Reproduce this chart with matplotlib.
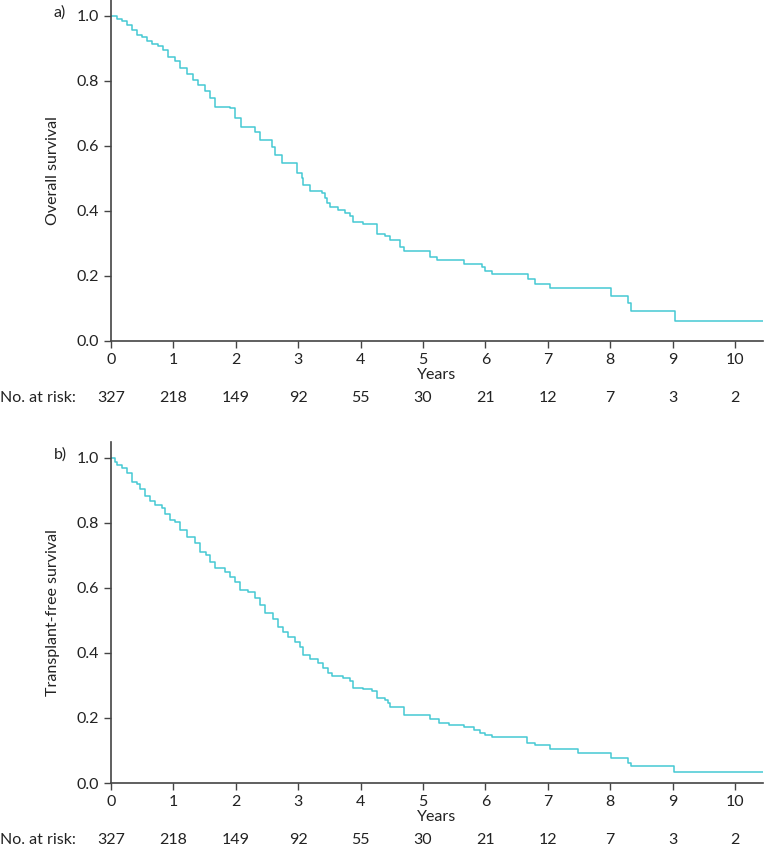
import matplotlib
matplotlib.use("Agg")
import matplotlib.pyplot as plt
from matplotlib.transforms import blended_transform_factory

plt.rcParams['font.family'] = ['Lato', 'DejaVu Sans']

# Kaplan-Meier step points (time in years, survival)
t_os = [0, 0.09, 0.17, 0.25, 0.33, 0.41, 0.49, 0.57, 0.65, 0.76, 0.84, 0.92,
        1.03, 1.11, 1.21, 1.32, 1.40, 1.51, 1.59, 1.67, 1.91, 1.99, 2.09, 2.31,
        2.39, 2.58, 2.63, 2.74, 2.98, 3.06, 3.08, 3.19, 3.38, 3.43, 3.46, 3.51,
        3.64, 3.75, 3.83, 3.88, 4.04, 4.26, 4.39, 4.47, 4.63, 4.69, 5.11, 5.22,
        5.65, 5.94, 6.00, 6.10, 6.69, 6.79, 7.04, 8.02, 8.29, 8.33, 9.04, 10.45]
s_os = [1.0, 0.99, 0.983, 0.972, 0.957, 0.942, 0.934, 0.924, 0.913, 0.906, 0.895, 0.873,
        0.862, 0.839, 0.822, 0.803, 0.788, 0.770, 0.747, 0.720, 0.716, 0.685, 0.659, 0.644,
        0.618, 0.598, 0.572, 0.547, 0.516, 0.500, 0.480, 0.461, 0.454, 0.439, 0.423, 0.411,
        0.403, 0.395, 0.383, 0.367, 0.360, 0.329, 0.323, 0.311, 0.290, 0.277, 0.257, 0.249,
        0.236, 0.227, 0.215, 0.205, 0.190, 0.174, 0.162, 0.139, 0.116, 0.092, 0.0625, 0.0625]

t_tfs = [0, 0.07, 0.09, 0.17, 0.25, 0.33, 0.41, 0.46, 0.54, 0.62, 0.71, 0.81, 0.87,
         0.95, 1.03, 1.11, 1.21, 1.35, 1.43, 1.53, 1.59, 1.67, 1.83, 1.91, 1.99, 2.07,
         2.20, 2.31, 2.39, 2.47, 2.60, 2.68, 2.76, 2.84, 2.95, 3.03, 3.08, 3.19, 3.32,
         3.40, 3.48, 3.54, 3.72, 3.83, 3.88, 4.04, 4.18, 4.26, 4.39, 4.44, 4.47, 4.63,
         4.69, 5.11, 5.25, 5.41, 5.65, 5.81, 5.91, 5.99, 6.10, 6.66, 6.79, 7.04, 7.49,
         8.02, 8.29, 8.33, 9.03, 10.45]
s_tfs = [1.0, 0.988, 0.978, 0.968, 0.953, 0.927, 0.920, 0.904, 0.883, 0.868, 0.855, 0.847, 0.828,
         0.809, 0.804, 0.778, 0.758, 0.738, 0.712, 0.702, 0.681, 0.661, 0.650, 0.635, 0.619, 0.594,
         0.586, 0.568, 0.548, 0.522, 0.504, 0.481, 0.466, 0.450, 0.435, 0.419, 0.394, 0.381, 0.368,
         0.353, 0.338, 0.329, 0.322, 0.314, 0.291, 0.288, 0.284, 0.261, 0.255, 0.245, 0.235, 0.233,
         0.209, 0.197, 0.186, 0.178, 0.172, 0.163, 0.155, 0.149, 0.143, 0.124, 0.116, 0.104, 0.091,
         0.078, 0.063, 0.052, 0.034, 0.034]

risk_years = [0, 1, 2, 3, 4, 5, 6, 7, 8, 9, 10]
at_risk = [327, 218, 149, 92, 55, 30, 21, 12, 7, 3, 2]

panels = [("a)", "Overall survival", t_os, s_os, 0.6035),
          ("b)", "Transplant-free survival", t_tfs, s_tfs, 0.0895)]

line_col = '#45c9d3'
txt_col = '#222222'
spine_col = '#444444'

fig = plt.figure(figsize=(7.65, 8.6), dpi=100)
for tag, ylab, t, s, bottom in panels:
    ax = fig.add_axes([0.1451, bottom, 0.8524, 0.397])
    ax.step(t, s, where='post', color=line_col, lw=1.1)
    ax.set_xlim(0, 10.45)
    ax.set_ylim(0, 1.05)
    ax.set_xticks(range(11))
    ax.set_yticks([0, 0.2, 0.4, 0.6, 0.8, 1.0])
    ax.set_yticklabels(['0.0', '0.2', '0.4', '0.6', '0.8', '1.0'])
    for side in ['top', 'right']:
        ax.spines[side].set_visible(False)
    for side in ['left', 'bottom']:
        ax.spines[side].set_color(spine_col)
        ax.spines[side].set_linewidth(1.2)
    ax.tick_params(colors=spine_col, labelcolor=txt_col, labelsize=11.5,
                   length=5, width=1)
    ax.set_xlabel("Years", fontsize=11.5, color=txt_col, labelpad=1)
    ax.set_ylabel(ylab, fontsize=11.5, color=txt_col, labelpad=12)
    tag_tr = blended_transform_factory(ax.transAxes, ax.transData)
    ax.text(-0.088, 1.01, tag, transform=tag_tr, fontsize=11.5,
            color=txt_col, ha='left', va='center')
    # numbers at risk under the axis
    tr = ax.get_xaxis_transform()
    ax.text(-0.17, -0.167, "No. at risk:", transform=ax.transAxes,
            fontsize=11.5, color=txt_col, ha='left', va='center')
    for x, n in zip(risk_years, at_risk):
        ax.text(x, -0.167, str(n), transform=tr, fontsize=11.5,
                color=txt_col, ha='center', va='center')

fig.savefig("out.png", dpi=100)
